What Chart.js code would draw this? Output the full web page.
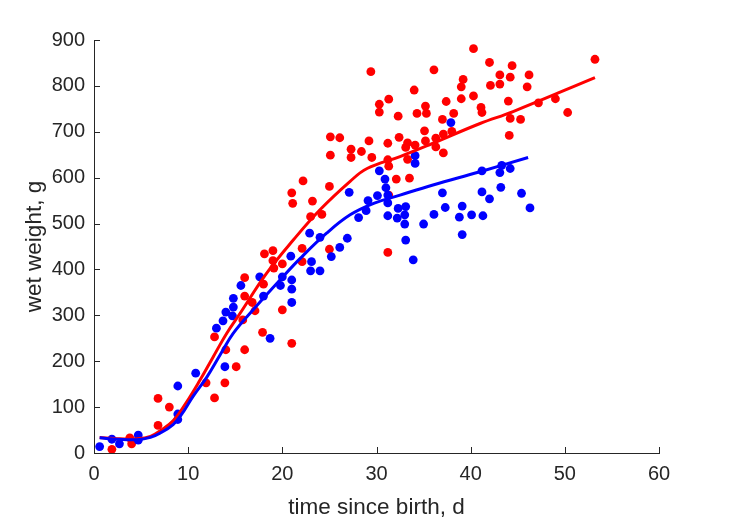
<!DOCTYPE html>
<html>
<head>
<meta charset="utf-8">
<script src="https://cdn.jsdelivr.net/npm/chart.js@4/dist/chart.umd.min.js"></script>
<style>
  html, body { margin: 0; padding: 0; background: #fff; }
  #wrap { width: 729px; height: 521px; }
</style>
</head>
<body>
<div id="wrap"><canvas id="growth"></canvas></div>
<script>
const blueDays = [0.6, 1.9, 2.7, 4.7, 4.7, 8.9, 8.9, 8.9, 10.8, 13.9, 13.0, 13.7, 14.0, 14.8, 14.8, 14.7,
  15.6, 17.6, 18.0, 18.7, 19.8, 20.0, 20.9, 21.0, 21.0, 21.0, 22.9, 24.0, 23.1, 23.0, 24.0, 25.2,
  26.1, 26.9, 27.1, 28.1, 28.9, 29.1, 30.1, 30.3, 30.9, 31.0, 31.2, 31.2, 31.2, 32.2, 32.3, 33.1,
  33.0, 33.0, 33.1, 33.9, 34.1, 34.1, 35.0, 36.1, 37.0, 37.3, 37.9, 38.8, 39.1, 39.1, 40.1, 41.2,
  41.2, 41.3, 42.0, 43.1, 43.3, 43.2, 44.2, 45.4, 46.3];
const blueWeight = [14, 30, 20, 39, 28, 146, 85, 73, 174, 188, 272, 288, 307, 337, 318, 299,
  365, 384, 342, 250, 365, 384, 429, 377, 357, 328, 479, 470, 417, 397, 397, 428,
  448, 468, 568, 513, 528, 550, 561, 615, 597, 578, 562, 545, 517, 512, 533, 537,
  519, 499, 464, 421, 648, 631, 499, 520, 567, 535, 720, 514, 538, 476, 519, 569,
  615, 517, 554, 611, 627, 579, 620, 566, 534];

const redDays = [1.9, 3.8, 4.0, 6.8, 6.8, 8.0, 11.9, 12.8, 12.8, 13.9, 14.0, 15.1, 15.8, 16.0, 16.0,
  16.0, 16.8, 17.1, 17.9, 18.0, 18.1, 19.0, 19.0, 19.1, 20.0, 20.0, 21.0, 21.1, 21.0, 22.1, 22.1,
  22.2, 23.0, 23.2, 24.2, 25.0, 25.0, 25.1, 25.1, 26.1, 27.3, 27.3, 28.4, 29.2, 29.4, 29.5, 30.3,
  30.3, 31.2, 31.3, 31.2, 31.3, 31.2, 31.3, 32.1, 32.3, 32.4, 33.1, 33.3, 33.3, 33.5, 34.0, 34.1,
  34.3, 35.1, 35.2, 35.2, 35.3, 36.1, 36.3, 36.3, 37.0, 37.1, 37.1, 37.4, 38.0, 38.2, 39.0, 39.0,
  39.2, 40.3, 40.3, 41.1, 41.2, 42.0, 42.1, 43.1, 43.1, 44.0, 44.1, 44.2, 44.2, 44.4, 45.3, 46.0,
  46.2, 47.2, 49.0, 50.3, 53.2];
const redWeight = [8, 33, 20, 119, 60, 100, 153, 253, 120, 153, 225, 188, 290, 342, 225,
  382, 328, 310, 263, 368, 434, 441, 419, 403, 412, 312, 567, 544, 239, 417, 446,
  593, 515, 549, 520, 581, 444, 689, 649, 687, 662, 644, 657, 680, 831, 644, 760,
  743, 639, 625, 675, 562, 437, 771, 597, 734, 688, 666, 676, 640, 599, 791, 671,
  740, 702, 756, 680, 740, 835, 686, 667, 727, 654, 695, 766, 701, 740, 772, 798,
  814, 778, 881, 753, 742, 851, 801, 824, 804, 767, 692, 819, 729, 844, 727, 798,
  824, 763, 772, 742, 858];

// model fits
const blueFitDays = [0.6, 2.5, 4.6, 6.0, 7.0, 8.4, 9.3, 10.5, 12.0, 13.4, 14.8, 16.9, 19.75, 21.9,
  24.7, 27.2, 29.7, 32.5, 36.0, 41.0, 46.1];
const blueFitWeight = [33, 30, 29, 34, 43, 62, 84, 123, 166, 214, 261, 312, 377, 424,
  479, 519, 544, 562, 584, 613, 644];
const redFitDays = [0.6, 2.5, 4.6, 6.0, 7.0, 8.4, 9.8, 11.26, 12.67, 14.1, 15.5, 18.34, 21.16, 24.0,
  27.2, 29.0, 32.5, 36.0, 41.0, 44.5, 53.2];
const redFitWeight = [34, 31, 31, 36, 48, 70, 110, 159, 210, 261, 304, 392, 464, 530,
  592, 620, 646, 675, 718, 744, 818];

const xTicks = [0, 10, 20, 30, 40, 50, 60];
const yTicks = [0, 100, 200, 300, 400, 500, 600, 700, 800, 900];

const toXY = (xs, ys) => xs.map((x, i) => ({x: x, y: ys[i]}));

const axisColor = '#262626';
const fontFamily = 'Liberation Sans, Arial, sans-serif';
const tickFont = {family: fontFamily, size: 20};
const labelFont = {family: fontFamily, size: 22.5};

// matlab style ticks pointing into the plot
const inwardTicks = {
  id: 'inwardTicks',
  afterDraw(chart) {
    const ctx = chart.ctx;
    const xs = chart.scales.x, ys = chart.scales.y;
    const len = 6;
    ctx.save();
    ctx.strokeStyle = axisColor;
    ctx.lineWidth = 1;
    ctx.beginPath();
    xTicks.forEach(v => {
      const px = Math.round(xs.getPixelForValue(v)) + 0.5;
      ctx.moveTo(px, ys.bottom);
      ctx.lineTo(px, ys.bottom - len);
    });
    yTicks.forEach(v => {
      const py = Math.round(ys.getPixelForValue(v)) + 0.5;
      ctx.moveTo(xs.left, py);
      ctx.lineTo(xs.left + len, py);
    });
    ctx.stroke();
    ctx.restore();
  }
};

new Chart(document.getElementById('growth'), {
  type: 'scatter',
  data: {
    datasets: [
      {
        data: toXY(blueFitDays, blueFitWeight), showLine: true, borderColor: '#0000ff',
        borderWidth: 3, pointRadius: 0, tension: 0.4, order: 0
      },
      {
        data: toXY(redFitDays, redFitWeight), showLine: true, borderColor: '#ff0000',
        borderWidth: 3, pointRadius: 0, tension: 0.4, order: 1
      },
      {
        data: toXY(blueDays, blueWeight), backgroundColor: '#0000ff', borderWidth: 0,
        pointRadius: 4.4, order: 2
      },
      {
        data: toXY(redDays, redWeight), backgroundColor: '#ff0000', borderWidth: 0,
        pointRadius: 4.4, order: 3
      }
    ]
  },
  options: {
    responsive: true,
    maintainAspectRatio: false,
    animation: false,
    layout: {padding: {top: 40, right: 70, left: 0, bottom: 0}},
    plugins: {legend: {display: false}, tooltip: {enabled: false}},
    scales: {
      x: {
        type: 'linear', min: 0, max: 60,
        afterBuildTicks: s => { s.ticks = xTicks.map(v => ({value: v})); },
        afterFit: s => { s.height = 68; },
        grid: {display: false, drawTicks: false},
        border: {color: axisColor, width: 1},
        ticks: {color: axisColor, font: tickFont, padding: 9, maxRotation: 0},
        title: {display: true, text: 'time since birth, d', color: axisColor, font: labelFont,
          padding: {top: 0, bottom: 0}}
      },
      y: {
        type: 'linear', min: 0, max: 900,
        afterBuildTicks: s => { s.ticks = yTicks.map(v => ({value: v})); },
        afterFit: s => { s.width = 94; },
        grid: {display: false, drawTicks: false},
        border: {color: axisColor, width: 1},
        ticks: {color: axisColor, font: tickFont, padding: 9},
        title: {display: true, text: 'wet weight, g', color: axisColor, font: labelFont,
          padding: {top: 21, bottom: 0}}
      }
    }
  },
  plugins: [inwardTicks]
});
</script>
</body>
</html>
